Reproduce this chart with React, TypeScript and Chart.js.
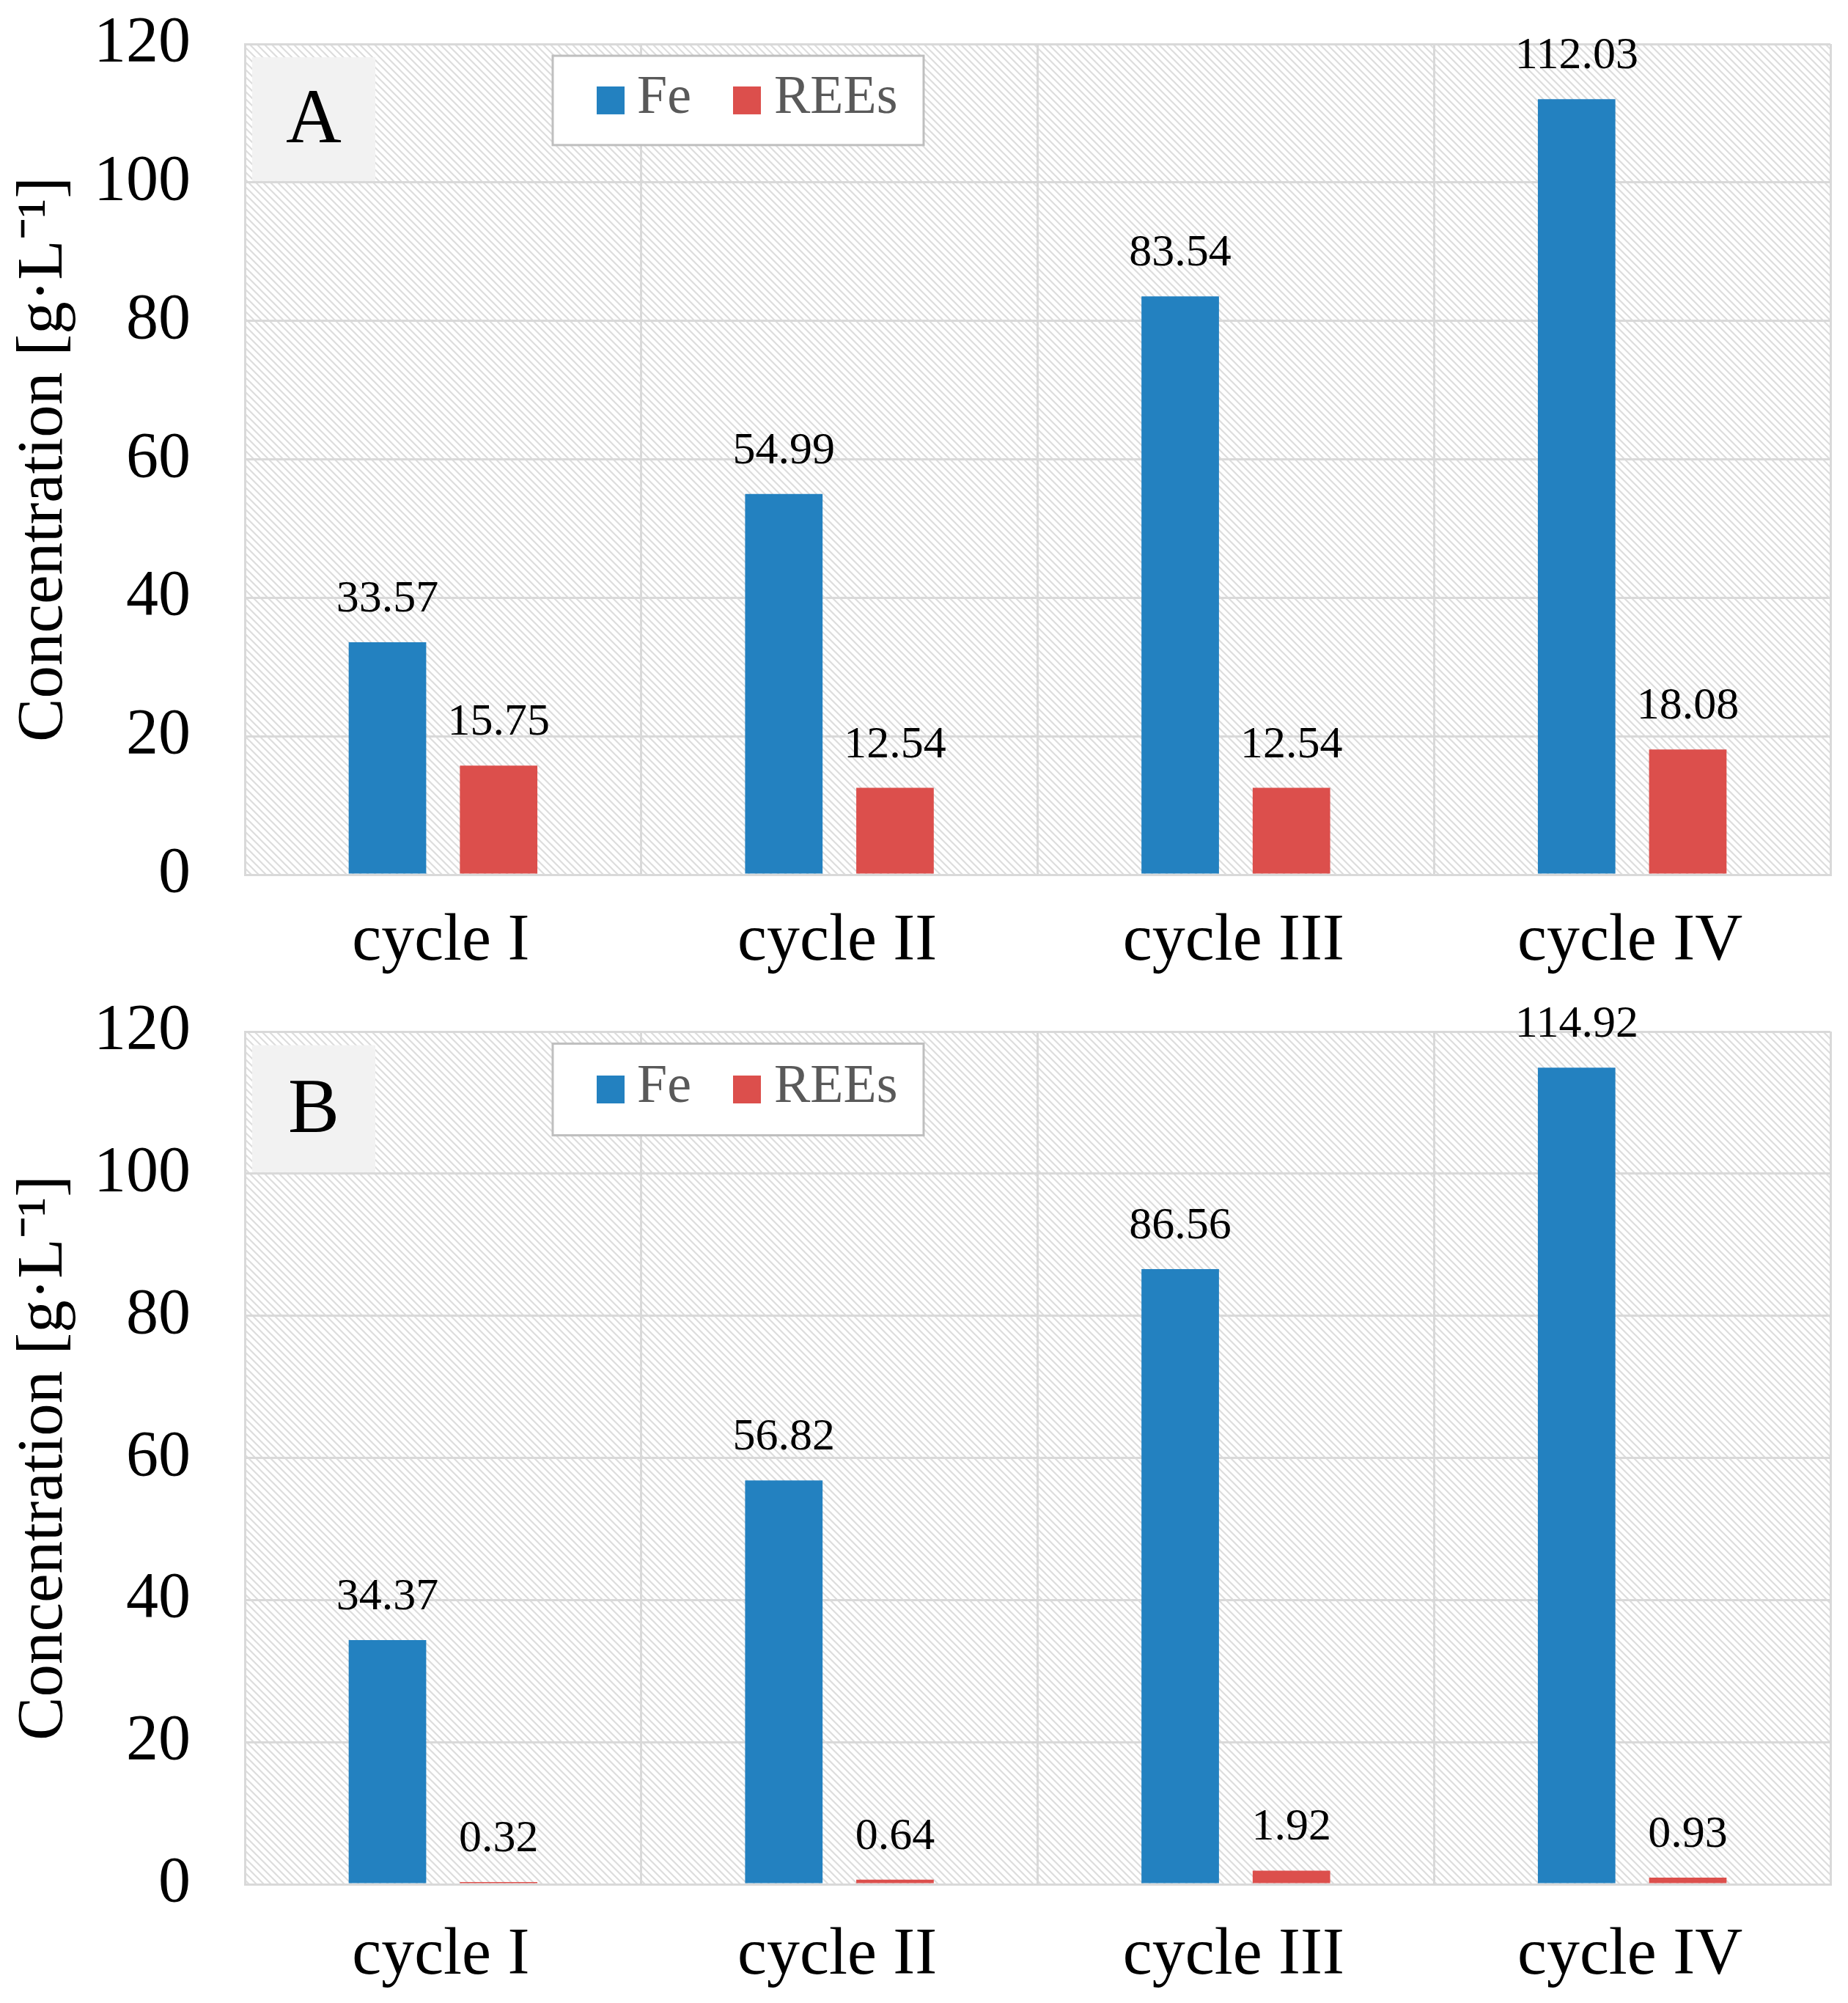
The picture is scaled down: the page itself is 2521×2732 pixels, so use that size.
import { useEffect, useRef } from 'react';
import { Chart, registerables } from 'chart.js';

Chart.register(...registerables);

const categories = ['cycle I', 'cycle II', 'cycle III', 'cycle IV'];
const seriesNames = ['Fe', 'REEs'];
const feA = [33.57, 54.99, 83.54, 112.03];
const reesA = [15.75, 12.54, 12.54, 18.08];
const feB = [34.37, 56.82, 86.56, 114.92];
const reesB = [0.32, 0.64, 1.92, 0.93];
const yTicks = [0, 20, 40, 60, 80, 100, 120];
const yTitle = 'Concentration [g·L⁻¹]';

const SERIF = '"Liberation Serif", "Times New Roman", serif';
const BLUE = '#2381c0';
const RED = '#dc4f4c';
const GRID = '#d9d9d9';

function makeHatch(ctx: CanvasRenderingContext2D) {
	const tile = document.createElement('canvas');
	tile.width = 10;
	tile.height = 10;
	const t = tile.getContext('2d')!;
	t.strokeStyle = '#dddddd';
	t.lineWidth = 2.2;
	t.beginPath();
	t.moveTo(-2, -2);
	t.lineTo(12, 12);
	t.moveTo(-2, 8);
	t.lineTo(2, 12);
	t.moveTo(8, -2);
	t.lineTo(12, 2);
	t.stroke();
	return ctx.createPattern(tile, 'repeat')!;
}

const panelPlugin = {
	id: 'panel',
	beforeDraw(chart: any, _a: any, opts: any) {
		const { ctx, chartArea } = chart;
		const y = chart.scales.y;
		ctx.save();
		ctx.fillStyle = makeHatch(ctx);
		ctx.fillRect(chartArea.left, chartArea.top, chartArea.right - chartArea.left, chartArea.bottom - chartArea.top);
		// letter box
		const band = y.getPixelForValue(100) - y.getPixelForValue(120);
		const bx = chartArea.left + 10;
		const by = chartArea.top + band * 0.096;
		const bh = y.getPixelForValue(100) - 2 - by;
		ctx.fillStyle = '#f2f2f2';
		ctx.fillRect(bx, by, 168, bh);
		ctx.fillStyle = '#000';
		ctx.font = `105px ${SERIF}`;
		ctx.textAlign = 'center';
		ctx.textBaseline = 'middle';
		ctx.fillText(opts.letter, bx + 84, by + bh / 2 + 4);
		ctx.restore();
	},
	afterDatasetsDraw(chart: any) {
		const { ctx } = chart;
		ctx.save();
		ctx.fillStyle = '#000';
		ctx.font = `62px ${SERIF}`;
		ctx.textAlign = 'center';
		ctx.textBaseline = 'alphabetic';
		chart.data.datasets.forEach((ds: any, i: number) => {
			chart.getDatasetMeta(i).data.forEach((bar: any, j: number) => {
				ctx.fillText(ds.data[j].toFixed(2), bar.x, bar.y - 42);
			});
		});
		ctx.restore();
	},
	afterDraw(chart: any) {
		const { ctx, chartArea } = chart;
		const y = chart.scales.y;
		const band = y.getPixelForValue(100) - y.getPixelForValue(120);
		const lx = chartArea.left + 420;
		const ly = chartArea.top + band * 0.085;
		const lh = band * 0.645;
		ctx.save();
		ctx.fillStyle = '#fff';
		ctx.fillRect(lx, ly, 506, lh);
		ctx.strokeStyle = '#bfbfbf';
		ctx.lineWidth = 3;
		ctx.strokeRect(lx, ly, 506, lh);
		const cy = ly + lh / 2;
		ctx.font = `74px ${SERIF}`;
		ctx.textAlign = 'left';
		ctx.textBaseline = 'middle';
		const items = [
			{ sq: 60, tx: 115 },
			{ sq: 246, tx: 302 },
		];
		chart.data.datasets.forEach((ds: any, i: number) => {
			ctx.fillStyle = ds.backgroundColor;
			ctx.fillRect(lx + items[i].sq, cy - 19, 38, 38);
			ctx.fillStyle = '#595959';
			ctx.fillText(ds.label, lx + items[i].tx, cy - 2);
		});
		ctx.restore();
	},
};

function Panel({ fe, rees, letter, height, top, xHeight, labelPad }: any) {
	const ref = useRef<HTMLCanvasElement | null>(null);
	useEffect(() => {
		if (!ref.current) return;
		const chart = new Chart(ref.current, {
			type: 'bar',
			data: {
				labels: categories,
				datasets: [
					{ label: seriesNames[0], data: fe, backgroundColor: BLUE, categoryPercentage: 0.561, barPercentage: 0.697 },
					{ label: seriesNames[1], data: rees, backgroundColor: RED, categoryPercentage: 0.561, barPercentage: 0.697 },
				],
			},
			options: {
				animation: false,
				responsive: true,
				maintainAspectRatio: false,
				devicePixelRatio: 1,
				layout: { padding: { top, right: 24, left: 0, bottom: 0 } },
				plugins: {
					legend: { display: false },
					tooltip: { enabled: false },
					panel: { letter },
				} as any,
				scales: {
					x: {
						grid: { color: GRID, lineWidth: 3, offset: true, drawTicks: false },
						border: { color: GRID, width: 3 },
						ticks: { color: '#000', padding: labelPad, labelOffset: -3, font: { family: SERIF, size: 90, lineHeight: 1.2 } },
						afterFit: (s: any) => { s.height = xHeight; },
					},
					y: {
						min: yTicks[0],
						max: yTicks[yTicks.length - 1],
						ticks: { stepSize: yTicks[1] - yTicks[0], color: '#000', padding: 2, font: { family: SERIF, size: 88, lineHeight: 1.2 } },
						grid: { color: GRID, lineWidth: 3, drawTicks: true, tickLength: 72, tickColor: 'rgba(0,0,0,0)' },
						border: { color: GRID, width: 3 },
						title: { display: true, text: yTitle, color: '#000', font: { family: SERIF, size: 89, lineHeight: 1.2 }, padding: { top: 7, bottom: 0 } },
						afterFit: (s: any) => { s.width = 334; },
					},
				},
			},
			plugins: [panelPlugin],
		});
		return () => chart.destroy();
	}, []);
	return (
		<div style={{ position: 'relative', width: '2521px', height: `${height}px` }}>
			<canvas ref={ref}></canvas>
		</div>
	);
}

export default function App() {
	return (
		<div style={{ position: 'absolute', left: 0, top: 0, width: '2521px', background: '#fff' }}>
			<Panel fe={feA} rees={reesA} letter="A" height={1340} top={60} xHeight={147} labelPad={38} />
			<Panel fe={feB} rees={reesB} letter="B" height={1392} top={67} xHeight={162} labelPad={44} />
		</div>
	);
}
